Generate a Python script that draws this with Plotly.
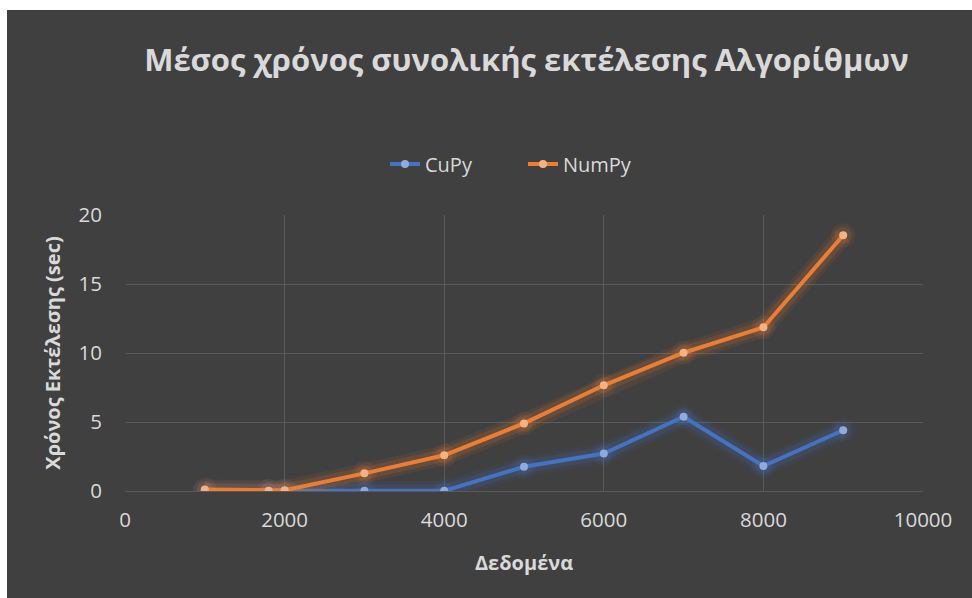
import plotly.graph_objects as go

# Problem sizes and mean total runtimes (seconds)
sizes = [1000, 1800, 2000, 3000, 4000, 5000, 6000, 7000, 8000, 9000]
cupy_times = [0.02, 0.01, 0.01, 0.01, 0.01, 1.76, 2.72, 5.38, 1.81, 4.40]
numpy_times = [0.10, 0.02, 0.05, 1.28, 2.59, 4.90, 7.66, 10.02, 11.86, 18.53]

x_ticks = [0, 2000, 4000, 6000, 8000, 10000]
x_tick_text = ["0", "2000", "4000", "6000", "8000", "10000"]
y_ticks = [0, 5, 10, 15, 20]

series = [
    ("CuPy", cupy_times, "#4472C4", "#8FAADC", "68,114,196"),
    ("NumPy", numpy_times, "#ED7D31", "#F4B183", "237,125,49"),
]

BG = "#404040"
GRID = "#5A5A5A"
TXT = "#D9D9D9"
FONT = "Open Sans"

fig = go.Figure()

for name, vals, line_col, mark_col, rgb in series:
    # soft glow under each line
    for w, a in [(20, 0.08), (13, 0.14)]:
        fig.add_trace(go.Scatter(
            x=sizes, y=vals, mode="lines+markers",
            line=dict(color=f"rgba({rgb},{a})", width=w),
            marker=dict(size=w + 4, color=f"rgba({rgb},{a})"),
            hoverinfo="skip", showlegend=False,
        ))
    fig.add_trace(go.Scatter(
        x=sizes, y=vals, mode="lines+markers", name=name,
        line=dict(color=line_col, width=4),
        marker=dict(size=8, color=mark_col),
    ))

fig.update_layout(
    width=972, height=598,
    margin=dict(l=125, r=49, t=215, b=107),
    paper_bgcolor="white",
    plot_bgcolor=BG,
    font=dict(family=FONT, color=TXT, size=20),
    title=dict(
        text="<b>Μέσος χρόνος συνολικής εκτέλεσης Αλγορίθμων</b>",
        font=dict(family=FONT, size=31, color=TXT),
        x=0.503, xref="paper", xanchor="center",
        y=1 - 60 / 598, yref="container", yanchor="middle",
    ),
    legend=dict(
        orientation="h", x=(385 - 125) / 798, xanchor="left",
        y=1.185, yanchor="middle",
        entrywidth=93, entrywidthmode="pixels",
        bgcolor="rgba(0,0,0,0)",
        font=dict(family=FONT, size=20, color=TXT),
        traceorder="normal",
    ),
    shapes=[dict(
        type="rect", xref="paper", yref="paper", layer="below",
        x0=(7 - 125) / 798, x1=(972 - 125) / 798 + 0.01,
        y0=(491 - 598) / 276 - 0.01, y1=(491 - 10) / 276,
        fillcolor=BG, line=dict(width=0),
    )],
)

fig.update_xaxes(
    range=[0, 10000], tickvals=x_ticks, ticktext=x_tick_text,
    showgrid=True, gridcolor=GRID, gridwidth=1.3,
    zeroline=True, zerolinecolor=BG, zerolinewidth=2,
    showline=False, ticks="", ticklabelstandoff=14,
    tickfont=dict(family=FONT, size=20.5, color=TXT),
    title=dict(text="<b>Δεδομένα</b>", font=dict(family=FONT, size=20, color=TXT),
               standoff=24),
    automargin=False,
)
fig.update_yaxes(
    range=[0, 20], tickvals=y_ticks,
    showgrid=True, gridcolor=GRID, gridwidth=1.3,
    zeroline=True, zerolinecolor=GRID, zerolinewidth=1.3,
    showline=False, ticks="", ticklabelstandoff=22,
    tickfont=dict(family=FONT, size=20.5, color=TXT),
    title=dict(text="<b>Χρόνος Εκτέλεσης (sec)</b>", font=dict(family=FONT, size=20, color=TXT),
               standoff=12),
    automargin=False,
)

fig.write_html("out.html")
